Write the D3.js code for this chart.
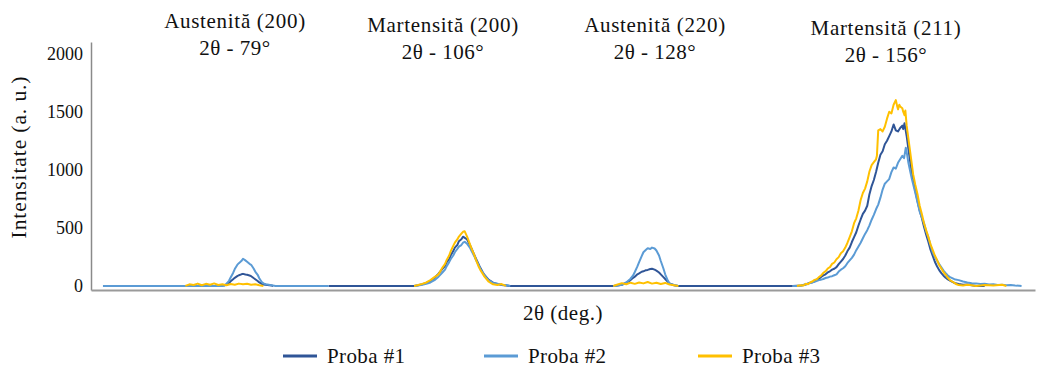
<!DOCTYPE html>
<html>
<head>
<meta charset="utf-8">
<script src="https://cdn.jsdelivr.net/npm/d3@7"></script>
<style>
  html, body { margin: 0; padding: 0; background: #fff; }
  svg { display: block; }
  text { font-family: "Liberation Serif", "Times New Roman", serif; fill: #111; }
</style>
</head>
<body>
<svg id="chart" width="1039" height="373"></svg>
<script>
// ---------------- DATA ----------------
const seriesNames = ["Proba #1", "Proba #2", "Proba #3"];
const yTicks = [0, 500, 1000, 1500, 2000];
const peakLabels = ["Austenită (200)", "Martensită (200)", "Austenită (220)", "Martensită (211)"];
const peakAngles = [79, 106, 128, 156];
const peakAngleLabels = ["2θ - 79°", "2θ - 106°", "2θ - 128°", "2θ - 156°"];

// [2θ (deg), intensity (a.u.)]
const proba1_w1 = [[76.6,0],[77,12],[77.3,26],[77.5,40],[77.8,58],[78,70],[78.3,84],[78.5,92],[78.8,100],[79,104],[79.3,98],[79.5,96],[79.8,90],[80,84],[80.3,68],[80.5,58],[80.8,42],[81,30],[81.3,18],[81.5,12],[82,8],[82.5,3],[82.7,0]];
const proba1_w2 = [[89.5,0],[100,0],[100.5,6],[101,14],[101.5,26],[102,42],[102.5,70],[103,105],[103.5,150],[103.8,172],[104,205],[104.3,228],[104.5,265],[104.8,300],[105,330],[105.3,352],[105.5,385],[105.8,402],[106,424],[106.3,410],[106.5,398],[106.8,352],[107,320],[107.3,270],[107.5,236],[107.8,190],[108,158],[108.3,118],[108.5,94],[109,52],[109.5,28],[110,16],[110.5,8],[111,4],[111.5,0],[123.5,0]];
const proba1_w3 = [[123.5,0],[124,4],[124.5,10],[125,28],[125.3,40],[125.5,50],[125.8,70],[126,80],[126.3,100],[126.5,108],[126.8,122],[127,126],[127.3,136],[127.5,138],[127.8,146],[128,148],[128.3,140],[128.5,132],[128.8,116],[129,100],[129.3,76],[129.5,60],[129.8,36],[130,22],[130.5,6],[131,0],[144,0]];
const proba1_w4 = [[144,0],[144.5,2],[145,4],[145.5,12],[146,28],[146.25,32],[146.5,40],[146.75,54],[147,62],[147.25,78],[147.5,90],[147.75,100],[148,116],[148.25,126],[148.5,140],[148.75,148],[149,162],[149.25,188],[149.5,210],[149.75,232],[150,262],[150.25,300],[150.5,330],[150.75,378],[151,420],[151.25,462],[151.5,520],[151.75,572],[152,620],[152.25,648],[152.5,690],[152.75,790],[153,860],[153.25,912],[153.5,980],[153.75,1060],[154,1130],[154.25,1160],[154.5,1220],[154.75,1250],[155,1290],[155.25,1330],[155.5,1390],[155.75,1340],[156,1330],[156.25,1360],[156.5,1380],[156.6,1350],[156.75,1400],[157,1290],[157.25,1150],[157.5,1020],[157.75,910],[158,820],[158.25,730],[158.5,650],[158.75,585],[159,510],[159.25,440],[159.5,380],[159.75,312],[160,260],[160.25,208],[160.5,170],[160.75,136],[161,110],[161.25,88],[161.5,70],[161.75,56],[162,46],[162.5,26],[163,16],[163.5,10],[164,12],[164.5,6],[165,0],[166,0]];

const proba2_w1 = [[62,0],[70,0],[76.5,0],[76.8,6],[77,20],[77.3,44],[77.5,72],[77.8,112],[78,145],[78.3,181],[78.5,196],[78.8,214],[79,234],[79.25,222],[79.5,208],[79.8,190],[80,182],[80.3,150],[80.5,124],[80.8,96],[81,66],[81.3,34],[81.5,22],[81.8,14],[82,12],[82.3,8],[82.5,6],[83,0],[89.5,0]];
const proba2_w2 = [[100,0],[100.5,4],[101,10],[101.5,18],[102,30],[102.5,50],[103,80],[103.5,118],[103.8,140],[104,170],[104.3,205],[104.5,232],[104.8,262],[105,290],[105.3,318],[105.5,338],[105.8,352],[106,372],[106.2,380],[106.5,360],[106.8,330],[107,300],[107.3,258],[107.5,225],[107.8,182],[108,150],[108.5,90],[109,48],[109.5,26],[110,18],[110.5,10],[111,8],[111.5,0]];
const proba2_w3 = [[123.5,0],[124,4],[124.5,10],[125,30],[125.5,62],[125.8,90],[126,120],[126.3,168],[126.5,205],[126.8,256],[127,290],[127.3,312],[127.5,325],[127.8,318],[128,330],[128.3,322],[128.5,305],[128.8,262],[129,215],[129.3,150],[129.5,100],[129.8,46],[130,20],[130.5,8],[131,0]];
const proba2_w4 = [[144,0],[144.5,0],[145,4],[145.5,14],[146,24],[146.5,36],[147,50],[147.25,54],[147.5,60],[147.75,68],[148,72],[148.25,80],[148.5,84],[148.75,92],[149,100],[149.25,124],[149.5,140],[149.75,152],[150,170],[150.25,198],[150.5,220],[150.75,242],[151,270],[151.25,308],[151.5,340],[151.75,372],[152,410],[152.25,448],[152.5,480],[152.75,522],[153,570],[153.25,612],[153.5,660],[153.75,700],[154,760],[154.25,830],[154.5,880],[154.75,900],[155,920],[155.25,980],[155.5,1020],[155.75,1010],[156,1060],[156.25,1090],[156.5,1120],[156.7,1100],[156.9,1190],[157.05,1130],[157.2,1060],[157.4,990],[157.6,920],[157.8,860],[158,800],[158.25,720],[158.5,640],[158.75,590],[159,540],[159.25,470],[159.5,420],[159.75,350],[160,290],[160.25,250],[160.5,220],[160.75,188],[161,160],[161.25,132],[161.5,110],[161.75,90],[162,76],[162.5,58],[163,50],[163.5,38],[164,30],[164.5,24],[165,22],[165.5,16],[166,18],[166.5,12],[167,14],[167.5,8],[168,10],[168.5,6],[169,8],[169.5,4],[170,2],[170.25,0]];

const proba3_w1 = [[72,0],[72.5,14],[73,8],[73.5,20],[74,6],[74.5,18],[75,10],[75.5,22],[76,8],[76.5,14],[77,6],[77.5,16],[78,10],[78.5,20],[79,14],[79.5,18],[80,10],[80.5,14],[81,6],[81.5,0]];
const proba3_w2 = [[100,0],[100.5,8],[101,18],[101.5,30],[102,50],[102.5,76],[103,100],[103.5,160],[103.8,190],[104,224],[104.3,262],[104.5,300],[104.8,345],[105,372],[105.3,400],[105.5,425],[105.8,450],[106,466],[106.2,470],[106.5,420],[106.8,360],[107,322],[107.3,270],[107.5,226],[107.8,170],[108,140],[108.5,80],[109,36],[109.5,14],[110,8],[110.5,16],[111,0]];
const proba3_w3 = [[123.5,0],[124,12],[124.5,24],[125,14],[125.5,28],[126,18],[126.5,30],[127,22],[127.5,34],[128,20],[128.5,28],[129,16],[129.5,26],[130,12],[130.5,6],[131,0]];
const proba3_w4 = [[144.5,0],[144.75,4],[145,6],[145.25,3],[145.5,18],[145.75,14],[146,30],[146.25,38],[146.5,52],[146.75,58],[147,76],[147.25,90],[147.5,112],[147.75,126],[148,150],[148.25,162],[148.5,190],[148.75,202],[149,230],[149.25,248],[149.5,282],[149.75,298],[150,330],[150.25,372],[150.5,420],[150.75,470],[151,540],[151.25,582],[151.5,650],[151.75,740],[152,800],[152.25,838],[152.5,900],[152.75,985],[153,1040],[153.25,1065],[153.5,1090],[153.6,1120],[153.75,1340],[154,1350],[154.25,1330],[154.5,1370],[154.75,1440],[155,1500],[155.25,1485],[155.5,1560],[155.75,1600],[155.9,1550],[156,1520],[156.15,1560],[156.25,1545],[156.5,1530],[156.6,1500],[156.75,1470],[156.85,1510],[157,1380],[157.25,1240],[157.5,1100],[157.75,960],[158,870],[158.25,790],[158.5,690],[158.75,620],[159,540],[159.25,480],[159.5,420],[159.75,358],[160,310],[160.25,262],[160.5,224],[160.75,180],[161,150],[161.25,118],[161.5,96],[161.75,70],[162,50],[162.25,38],[162.5,26],[162.75,14],[163,8],[163.5,4],[164,10],[164.5,6],[165,0],[166,8],[167,4],[168,10],[168.5,0]];

const seriesColors = ["#2F5597", "#5B9BD5", "#FFC000"];
const seriesWindows = [
  [proba1_w1, proba1_w2, proba1_w3, proba1_w4],
  [proba2_w1, proba2_w2, proba2_w3, proba2_w4],
  [proba3_w1, proba3_w2, proba3_w3, proba3_w4]
];

// ---------------- LAYOUT ----------------
const svg = d3.select("#chart");
const plot = { left: 91, right: 1035, top: 42, bottom: 290 };

// Excel category-type axis: scans with different step widths -> piecewise linear 2θ scale
const x = d3.scaleLinear()
  .domain([60.55, 79, 106, 128, 156, 171.8])
  .range([plot.left, 243, 463, 652, 898, plot.right]);
const y = d3.scaleLinear().domain([-35, 2100]).range([plot.bottom, plot.top]);

// Y axis
const yAxis = svg.append("g")
  .attr("transform", `translate(${plot.left},0)`)
  .call(d3.axisLeft(y).tickValues(yTicks).tickSize(0).tickSizeOuter(0).tickPadding(8).tickFormat(d3.format("d")));
yAxis.select(".domain").attr("stroke", "#8a8a8a").attr("stroke-width", 1.5);
yAxis.selectAll(".tick text")
  .style("font-family", '"Liberation Serif", serif').style("font-size", "18px").attr("fill", "#111");

// Lines
const line = d3.line().x(d => x(d[0])).y(d => y(d[1]));
seriesWindows.forEach((wins, i) => {
  svg.append("g").selectAll("path").data(wins).join("path")
    .attr("d", line)
    .attr("fill", "none")
    .attr("stroke", seriesColors[i])
    .attr("stroke-width", 2)
    .attr("stroke-linejoin", "round");
});

// X axis (no tick labels)
const xAxis = svg.append("g")
  .attr("transform", `translate(0,${plot.bottom})`)
  .call(d3.axisBottom(x).tickValues([]).tickSizeOuter(0));
xAxis.select(".domain").attr("stroke", "#9a9a9a").attr("stroke-width", 2.2);

// Axis titles
svg.append("text")
  .attr("transform", `translate(26,157) rotate(-90)`)
  .attr("text-anchor", "middle")
  .style("font-size", "21.5px").style("letter-spacing", "0.9px")
  .text("Intensitate (a. u.)");
svg.append("text")
  .attr("x", (plot.left + plot.right) / 2).attr("y", 320)
  .attr("text-anchor", "middle")
  .style("font-size", "21px").style("letter-spacing", "0.5px")
  .text("2θ (deg.)");

// Peak annotations
const labelDX = [-8, -20, 3, -12];
const labelBase = [28, 32, 32, 35];
peakLabels.forEach((lab, i) => {
  const cx = x(peakAngles[i]) + labelDX[i];
  svg.append("text").attr("x", cx).attr("y", labelBase[i])
    .attr("text-anchor", "middle").style("font-size", "21px").style("letter-spacing", "0.7px").text(lab);
  svg.append("text").attr("x", cx).attr("y", labelBase[i] + 27)
    .attr("text-anchor", "middle").style("font-size", "21px").style("letter-spacing", "0.5px").text(peakAngleLabels[i]);
});

// Legend
const legendX = [283, 484, 698];
const legend = svg.append("g").attr("transform", "translate(0,356)");
seriesNames.forEach((n, i) => {
  const g = legend.append("g").attr("transform", `translate(${legendX[i]},0)`);
  g.append("line").attr("x1", 0).attr("x2", 34).attr("y1", 0).attr("y2", 0)
    .attr("stroke", seriesColors[i]).attr("stroke-width", 3);
  g.append("text").attr("x", 44).attr("y", 7).style("font-size", "21px").style("letter-spacing", "0.4px").text(n);
});
</script>
</body>
</html>
